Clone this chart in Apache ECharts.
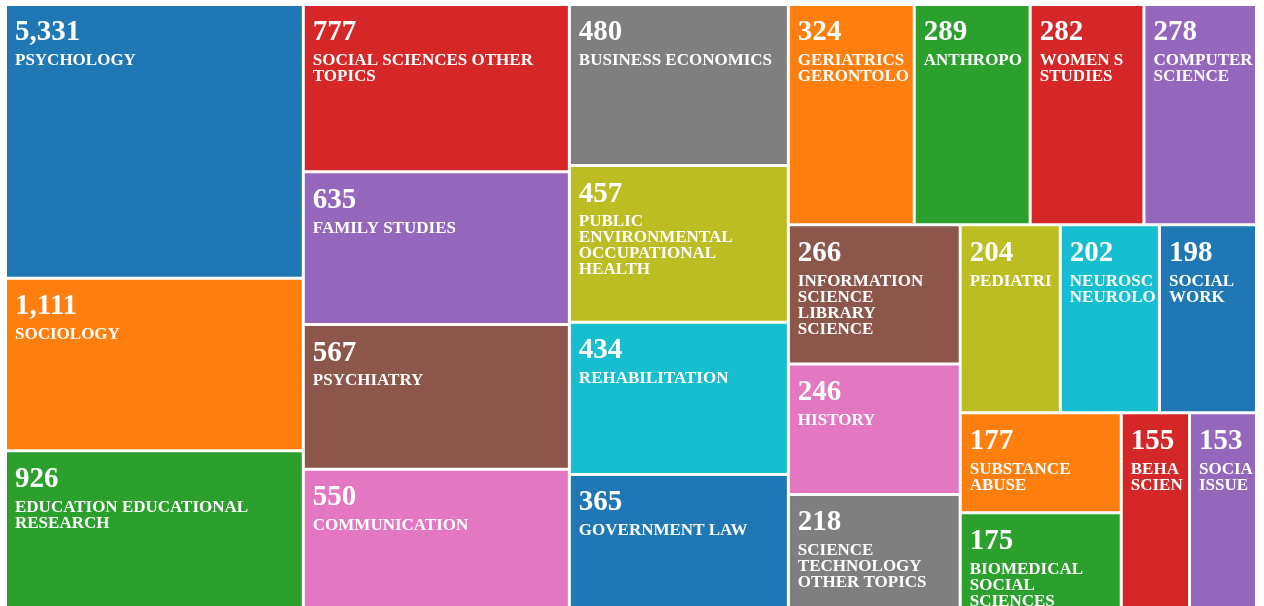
<!DOCTYPE html>
<html>
<head>
<meta charset="utf-8">
<script src="https://cdn.jsdelivr.net/npm/echarts@6/dist/echarts.min.js"></script>
<style>
  html, body { margin: 0; padding: 0; background: #fff; }
  #main { width: 1264px; height: 606px; }
</style>
</head>
<body>
<div id="main"></div>
<script>
// research areas and record counts
const categories = [
	'PSYCHOLOGY', 'SOCIOLOGY', 'EDUCATION EDUCATIONAL RESEARCH',
	'SOCIAL SCIENCES OTHER TOPICS', 'FAMILY STUDIES', 'PSYCHIATRY', 'COMMUNICATION',
	'BUSINESS ECONOMICS', 'PUBLIC ENVIRONMENTAL OCCUPATIONAL HEALTH', 'REHABILITATION', 'GOVERNMENT LAW',
	'GERIATRICS GERONTOLOGY', 'ANTHROPOLOGY', 'WOMEN S STUDIES', 'COMPUTER SCIENCE',
	'INFORMATION SCIENCE LIBRARY SCIENCE', 'HISTORY', 'SCIENCE TECHNOLOGY OTHER TOPICS',
	'PEDIATRICS', 'NEUROSCIENCES NEUROLOGY', 'SOCIAL WORK',
	'SUBSTANCE ABUSE', 'BIOMEDICAL SOCIAL SCIENCES', 'BEHAVIORAL SCIENCES', 'SOCIAL ISSUES'
];
const counts = [
	5331, 1111, 926,
	777, 635, 567, 550,
	480, 457, 434, 365,
	324, 289, 282, 278,
	266, 246, 218,
	204, 202, 198,
	177, 175, 155, 153
];

const palette = ['#1f77b4', '#ff7f0e', '#2ca02c', '#d62728', '#9467bd',
	'#8c564b', '#e377c2', '#7f7f7f', '#bcbd22', '#17becf'];

const FONT = '"Liberation Serif", "Times New Roman", serif';
const NAME_SIZE = 17;
const PAD_X = 8;

// cell area follows a log scale of the count (ln(2v / min))
const minCount = Math.min.apply(null, counts);
const treeData = categories.map(function(name, i) {
	return {
		name: name,
		value: [Math.log(counts[i] / (minCount / 2)), counts[i]],
		itemStyle: { color: palette[i % palette.length] }
	};
});

// word wrap (long words stay whole and get cut at the cell edge)
let wrapped = {};
const ctx = document.createElement('canvas').getContext('2d');
ctx.font = 'bold ' + NAME_SIZE + 'px ' + FONT;
function wrapName(name, maxW) {
	let words = name.split(' ');
	let lines = [];
	let line = '';
	words.forEach(function(w) {
		let test = line ? line + ' ' + w : w;
		if (line && ctx.measureText(test).width > maxW) {
			lines.push(line);
			line = w;
		} else {
			line = test;
		}
	});
	if (line) lines.push(line);
	return lines.join('\n');
}

let myChart = echarts.init(document.getElementById('main'));
let option = {
	animation: false,
	series: [{
		type: 'treemap',
		left: 7,
		top: 6,
		width: 1248,
		height: 604,
		roam: false,
		nodeClick: false,
		breadcrumb: { show: false },
		sort: 'desc',
		levels: [{
			itemStyle: { gapWidth: 3, borderWidth: 0, borderColor: '#fff' }
		}],
		itemStyle: { borderWidth: 0 },
		label: {
			show: true,
			position: 'insideTopLeft',
			padding: [7, 0, 0, PAD_X],
			overflow: 'truncate',
			lineOverflow: 'none',
			ellipsis: '',
			formatter: function(p) {
				let name = wrapped[p.name] || p.name;
				// newline sits inside the name token so it is kept
				return '{num|' + p.value[1].toLocaleString('en-US') + '}{name|\n' + name + '}';
			},
			rich: {
				num: {
					color: '#fff',
					fontFamily: FONT,
					fontWeight: 'bold',
					fontSize: 29,
					lineHeight: 40
				},
				name: {
					color: '#fff',
					fontFamily: FONT,
					fontWeight: 'bold',
					fontSize: NAME_SIZE,
					lineHeight: 16
				}
			}
		},
		data: treeData
	}]
};
myChart.setOption(option);

// second pass: wrap names to the width of each laid-out cell
let tree = myChart.getModel().getSeriesByIndex(0).getData().tree;
tree.root.children.forEach(function(node) {
	let lay = node.getLayout();
	wrapped[node.name] = wrapName(node.name, lay.width - 2 * PAD_X);
});
myChart.setOption({ series: [{ data: treeData }] });
</script>
</body>
</html>
